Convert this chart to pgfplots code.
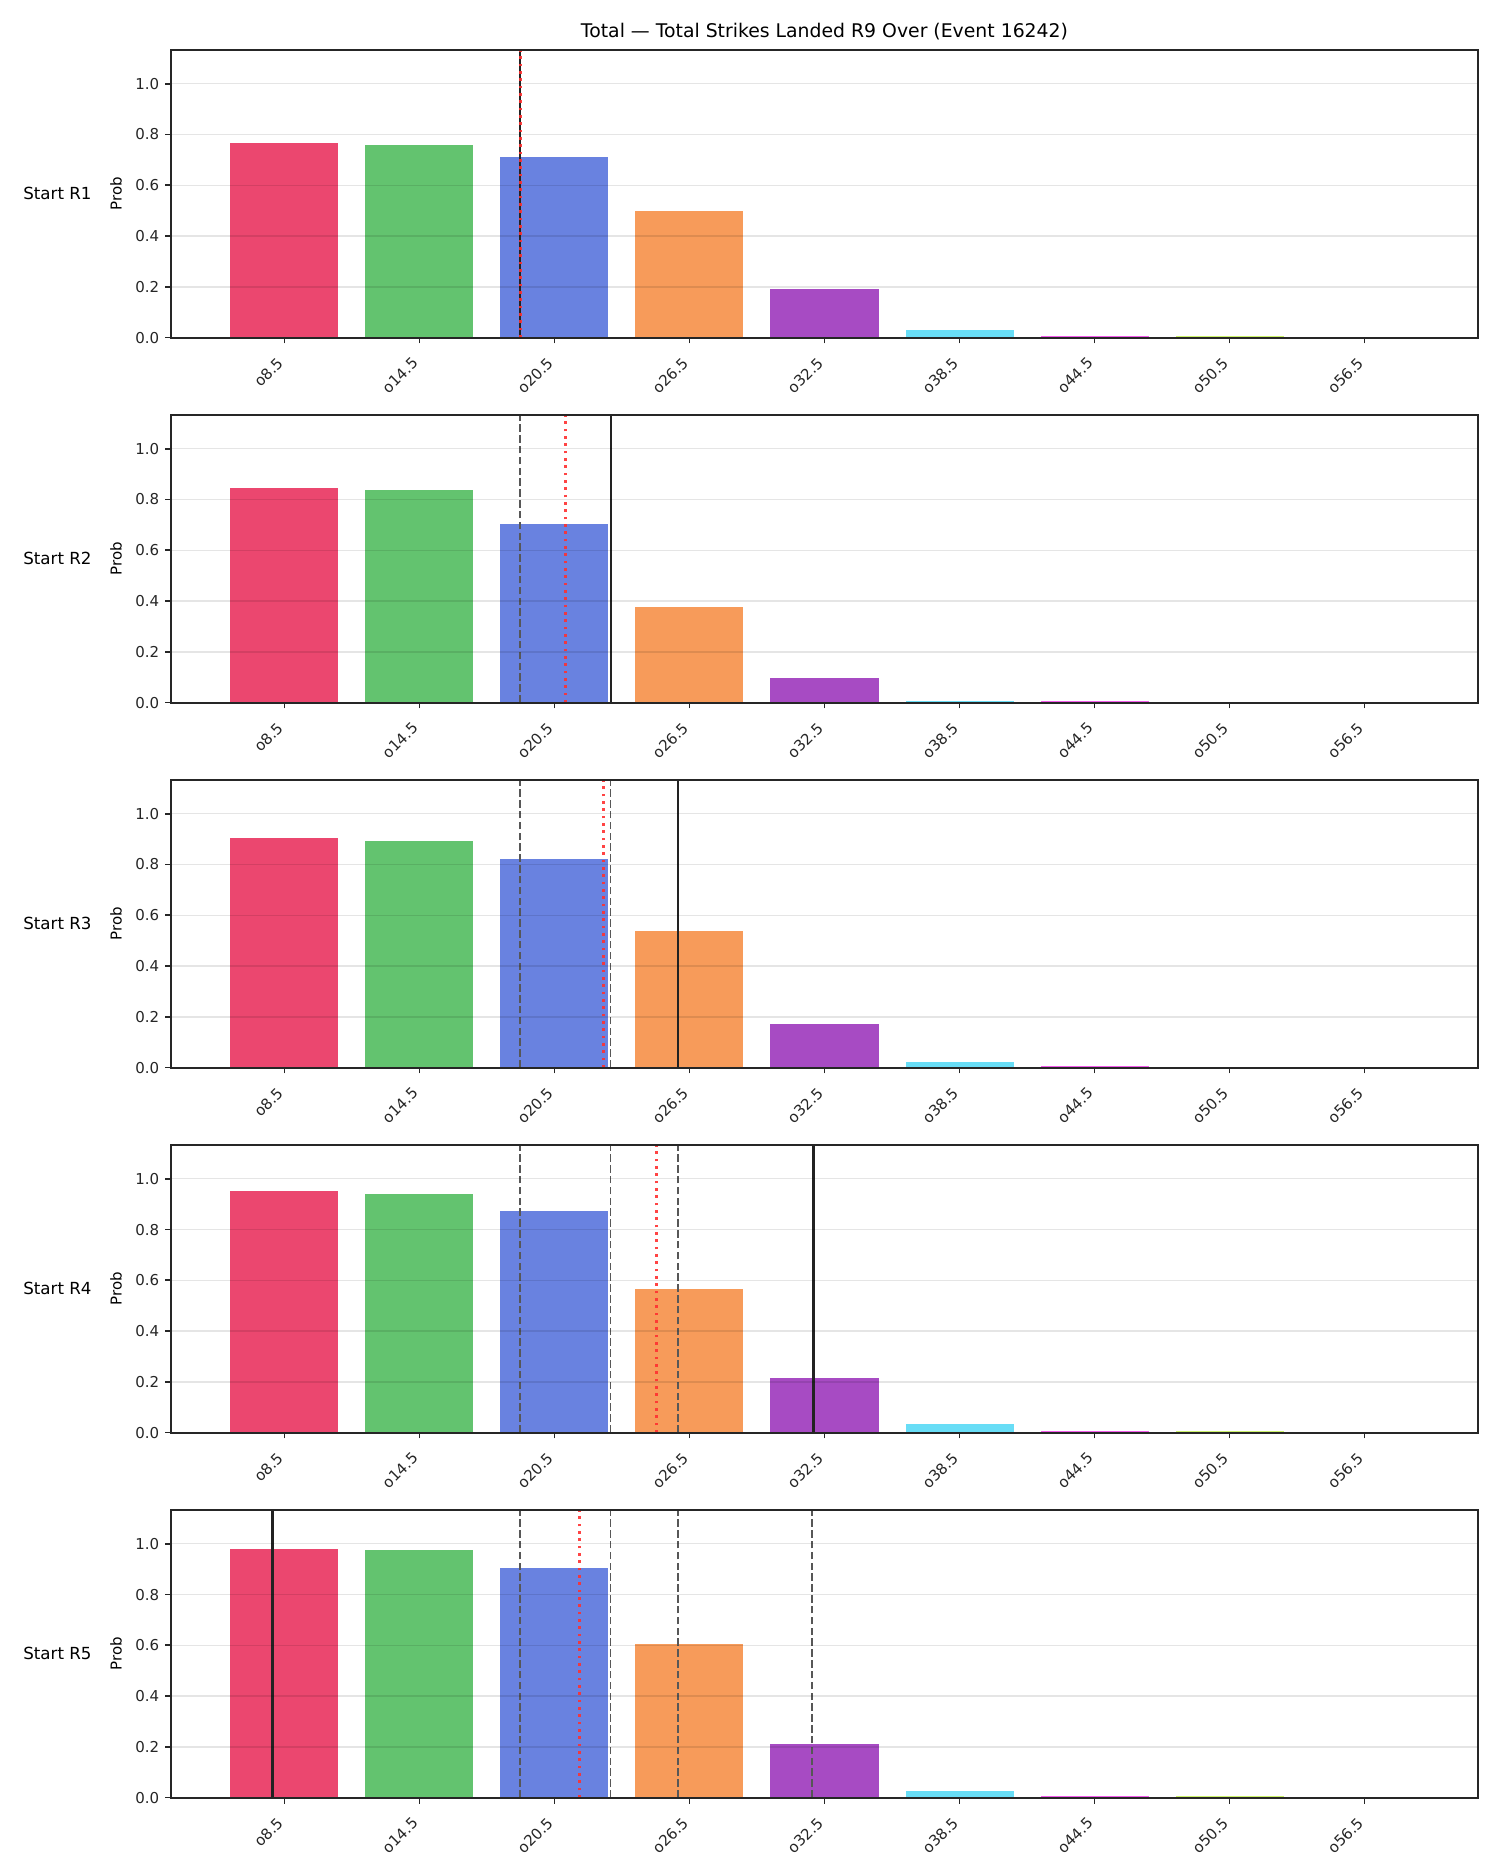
\documentclass[border=0pt]{standalone}
\usepackage{fontspec}
\setmainfont{DejaVu Sans}
\usepackage{pgfplots}
\pgfplotsset{compat=1.18}

\definecolor{cA}{HTML}{E6194B}
\definecolor{cB}{HTML}{3CB44B}
\definecolor{cC}{HTML}{4363D8}
\definecolor{cD}{HTML}{F58231}
\definecolor{cE}{HTML}{911EB4}
\definecolor{cF}{HTML}{42D4F4}
\definecolor{cG}{HTML}{F032E6}
\definecolor{cH}{HTML}{BFEF45}
\definecolor{cI}{HTML}{FABED4}
\definecolor{spine}{HTML}{262626}
\definecolor{solidline}{HTML}{222222}
\definecolor{redline}{HTML}{FF3030}

\newcommand{\onebar}[3]{\addplot[ybar,bar width=0.8,bar shift=0pt,fill=#1,fill opacity=0.8,draw=none] coordinates {(#2,#3)};}
\newcommand{\bars}[9]{%
  \onebar{cA}{0}{#1}\onebar{cB}{1}{#2}\onebar{cC}{2}{#3}%
  \onebar{cD}{3}{#4}\onebar{cE}{4}{#5}\onebar{cF}{5}{#6}%
  \onebar{cG}{6}{#7}\onebar{cH}{7}{#8}\onebar{cI}{8}{#9}}
\newcommand{\vdashed}[1]{\addplot[line width=1.1pt,color=black!66,dash pattern=on 4.5pt off 2pt] coordinates {(#1,0) (#1,1.133)};}
\newcommand{\vsolid}[1]{\addplot[line width=1.6pt,color=solidline] coordinates {(#1,0) (#1,1.133)};}
\newcommand{\vred}[1]{\addplot[line width=1.8pt,color=redline,opacity=0.9,dash pattern=on 1.6pt off 2.8pt] coordinates {(#1,0) (#1,1.133)};}

\pgfplotsset{
  panel/.style={
    scale only axis, width=784.2pt, height=172.6pt,
    anchor=north west,
    xmin=-0.84, xmax=8.84, ymin=0, ymax=1.133,
    xtick={0,1,2,3,4,5,6,7,8},
    xticklabels={o8.5,o14.5,o20.5,o26.5,o32.5,o38.5,o44.5,o50.5,o56.5},
    ytick={0,0.2,0.4,0.6,0.8,1.0},
    yticklabel style={/pgf/number format/.cd,fixed,fixed zerofill,precision=1,assume math mode=true},
    ymajorgrids, grid style={color=black,opacity=0.1,line width=0.8pt},
    tick align=outside, xtick pos=left, ytick pos=left,
    major tick length=3.5pt,
    axis line style={line width=1.25pt,color=spine},
    tick style={line width=1pt,color=spine},
    ticklabel style={font=\fontsize{9}{10.8}\selectfont, text=spine},
    xticklabel style={inner sep=0pt, xshift=-5pt, yshift=-7.5pt, rotate=45, anchor=north east},
    ylabel={Prob},
    ylabel style={font=\fontsize{9}{10.8}\selectfont, at={(axis description cs:-0.042,0.5)}, anchor=center},
    axis on top,
    clip=true,
  }
}

\begin{document}
\begin{tikzpicture}
\useasboundingbox (0,0) rectangle (900pt,1125pt);

% Panel 1
\begin{axis}[panel, at={(102.6pt,1095pt)}]
\bars{0.767}{0.760}{0.710}{0.499}{0.192}{0.030}{0.007}{0.006}{0.004}
\vsolid{1.746}
\vred{1.746}
\end{axis}
\node[anchor=base,font=\fontsize{11.3}{13.5}\selectfont] at (494.7pt,1102.5pt) {Total — Total Strikes Landed R9 Over (Event 16242)};
\node[anchor=west,inner sep=0pt,font=\fontsize{10}{12}\selectfont] at (13.8pt,1008.7pt) {Start R1};

% Panel 2
\begin{axis}[panel, at={(102.6pt,876pt)}]
\bars{0.847}{0.837}{0.705}{0.378}{0.099}{0.007}{0.005}{0.004}{0.003}
\vdashed{1.746}
\vsolid{2.419}
\vred{2.084}
\end{axis}
\node[anchor=west,inner sep=0pt,font=\fontsize{10}{12}\selectfont] at (13.8pt,789.7pt) {Start R2};

% Panel 3
\begin{axis}[panel, at={(102.6pt,657pt)}]
\bars{0.903}{0.894}{0.823}{0.539}{0.172}{0.022}{0.006}{0.004}{0.003}
\vdashed{1.746}
\vdashed{2.415}
\vsolid{2.916}
\vred{2.363}
\end{axis}
\node[anchor=west,inner sep=0pt,font=\fontsize{10}{12}\selectfont] at (13.8pt,570.7pt) {Start R3};

% Panel 4
\begin{axis}[panel, at={(102.6pt,438pt)}]
\bars{0.953}{0.941}{0.874}{0.566}{0.216}{0.033}{0.006}{0.005}{0.003}
\vdashed{1.746}
\vdashed{2.415}
\vdashed{2.916}
\vsolid{3.919}
\vred{2.753}
\end{axis}
\node[anchor=west,inner sep=0pt,font=\fontsize{10}{12}\selectfont] at (13.8pt,351.7pt) {Start R4};

% Panel 5
\begin{axis}[panel, at={(102.6pt,219pt)}]
\bars{0.980}{0.976}{0.905}{0.605}{0.212}{0.026}{0.007}{0.006}{0.004}
\vdashed{1.746}
\vdashed{2.415}
\vdashed{2.912}
\vdashed{3.910}
\vsolid{-0.089}
\vred{2.184}
\end{axis}
\node[anchor=west,inner sep=0pt,font=\fontsize{10}{12}\selectfont] at (13.8pt,132.7pt) {Start R5};
\end{tikzpicture}
\end{document}
